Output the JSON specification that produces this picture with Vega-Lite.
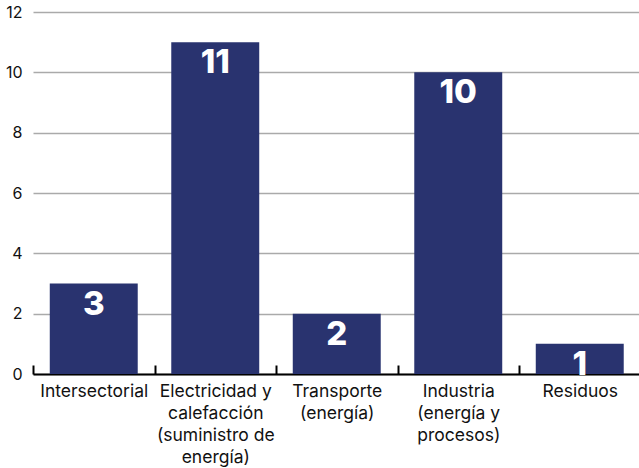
{
  "$schema": "https://vega.github.io/schema/vega-lite/v6.json",
  "width": 607.5,
  "height": 362,
  "autosize": {"type": "none"},
  "padding": {"left": 33, "top": 12, "right": 0, "bottom": 94},
  "background": "white",
  "config": {"view": {"stroke": null}, "font": "Inter"},
  "data": {
    "values": [
      {"sector": "Intersectorial", "value": 3},
      {"sector": "Electricidad y|calefacción|(suministro de|energía)", "value": 11},
      {"sector": "Transporte|(energía)", "value": 2},
      {"sector": "Industria|(energía y|procesos)", "value": 10},
      {"sector": "Residuos", "value": 1}
    ]
  },
  "encoding": {
    "x": {
      "field": "sector",
      "type": "nominal",
      "sort": null,
      "scale": {"paddingInner": 0.276, "paddingOuter": 0.138},
      "axis": {
        "title": null,
        "labelAngle": 0,
        "labelExpr": "split(datum.label, '|')",
        "labelFont": "Inter",
        "labelFontSize": 17.5,
        "labelColor": "#111111",
        "labelLineHeight": 22,
        "labelPadding": 17,
        "labelBaseline": "top",
        "domainColor": "#000000",
        "domainWidth": 2,
        "tickBand": "center",
        "tickOffset": -60.75,
        "labelOffset": 60.75,
        "tickColor": "#000000",
        "tickWidth": 2,
        "tickSize": -9,
        "labelLimit": 200
      }
    },
    "y": {
      "field": "value",
      "type": "quantitative",
      "scale": {"domain": [0, 12]},
      "axis": {
        "title": null,
        "values": [0, 2, 4, 6, 8, 10, 12],
        "domain": false,
        "ticks": false,
        "labelFont": "Inter",
        "labelFontSize": 16,
        "labelColor": "#111111",
        "labelPadding": 11,
        "gridColor": "#aaaaaa",
        "gridWidth": 1.5,
        "gridOpacity": 1
      }
    }
  },
  "layer": [
    {"mark": {"type": "bar", "color": "#29336f"}},
    {
      "mark": {
        "type": "text",
        "color": "white",
        "font": "Inter",
        "fontWeight": 800,
        "fontSize": 33,
        "baseline": "alphabetic",
        "dy": 31
      },
      "encoding": {"text": {"field": "value", "type": "quantitative"}}
    }
  ]
}
